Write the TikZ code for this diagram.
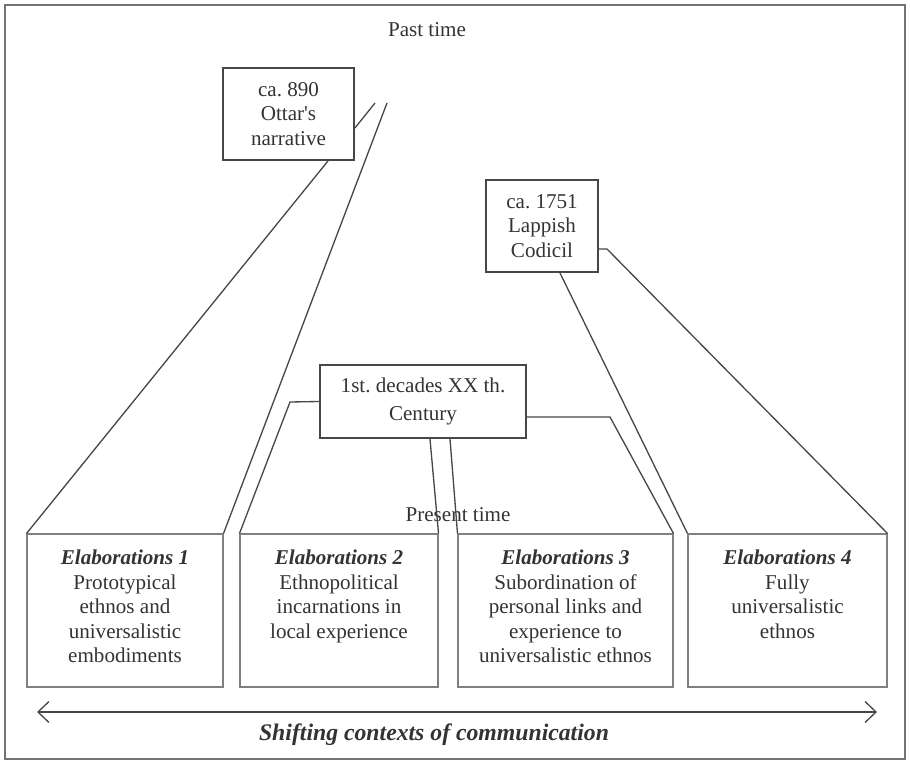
\documentclass[tikz,border=0pt]{standalone}
\usepackage{fontspec}
\setmainfont{Liberation Serif}
\usetikzlibrary{arrows.meta, positioning}

\begin{document}
\begin{tikzpicture}[
    x=0.02cm, y=-0.02cm, % one unit is one pixel of the page
    >={Straight Barb[length=2.2mm, width=4.2mm]}, % Open barbs on the time arrow
    line/.style={draw=black!72, line width=0.75pt}, % Style for the funnel lines
    datebox/.style={draw=black!72, line width=1.1pt, align=center, text=black!80,
        font=\fontsize{12}{14}\selectfont, inner sep=0pt}, % Dated sources
    elabbox/.style={draw=black!50, line width=0.6pt}, % Boxes of the elaborations
    elabtext/.style={align=center, text=black!80, font=\fontsize{12}{14}\selectfont,
        inner sep=0pt}, % Text inside those boxes
    timelabel/.style={text=black!80, font=\fontsize{12}{14}\selectfont} % Past / present
]
    \useasboundingbox (0,0) rectangle (910,764);

    % Frame
    \draw[black!55, line width=0.8pt] (5,5) rectangle (905,759);

    % Time labels
    \node[timelabel] (past) at (427,30) {Past time};
    \node[timelabel] (present) at (458,515) {Present time};

    % Dated sources
    \node[datebox, minimum width=2.62cm, minimum height=1.84cm] (ottar) at (288.5,114)
        {ca.\ 890\\Ottar\textquotesingle s\\narrative};
    \node[datebox, minimum width=2.24cm, minimum height=1.84cm] (lappish) at (542,226)
        {ca.\ 1751\\Lappish\\Codicil};
    \node[datebox, minimum width=4.12cm, minimum height=1.46cm,
        font=\fontsize{12}{16}\selectfont] (xx) at (423,401.5)
        {1st.\ decades XX th.\\Century};

    % Elaborations
    \node[elabbox, minimum width=3.92cm, minimum height=3.06cm] (el1) at (125,610.5) {};
    \node[elabbox, minimum width=3.96cm, minimum height=3.06cm] (el2) at (339,610.5) {};
    \node[elabbox, minimum width=4.30cm, minimum height=3.06cm] (el3) at (565.5,610.5) {};
    \node[elabbox, minimum width=3.98cm, minimum height=3.06cm] (el4) at (787.5,610.5) {};

    \node[elabtext, below=0.32cm of el1.north] (el1txt)
        {\textbf{\textit{Elaborations 1}}\\Prototypical\\ethnos and\\universalistic\\embodiments};
    \node[elabtext, below=0.32cm of el2.north] (el2txt)
        {\textbf{\textit{Elaborations 2}}\\Ethnopolitical\\incarnations in\\local experience};
    \node[elabtext, below=0.32cm of el3.north] (el3txt)
        {\textbf{\textit{Elaborations 3}}\\Subordination of\\personal links and\\experience to\\universalistic ethnos};
    \node[elabtext, below=0.32cm of el4.north] (el4txt)
        {\textbf{\textit{Elaborations 4}}\\Fully\\universalistic\\ethnos};

    % Lines from Ottar's narrative
    \coordinate (ottarA) at (375,103);
    \coordinate (ottarB) at (387,103);
    \draw[line] ([xshift=0.79cm]ottar.south) -- (el1.north west);
    \draw[line] ([yshift=-0.28cm]ottar.east) -- (ottarA);
    \draw[line] (ottarB) -- (el1.north east);

    % Lines from the Lappish Codicil
    \coordinate (lappA) at (607,249);
    \draw[line] ([xshift=0.36cm]lappish.south) -- (el4.north west);
    \draw[line] ([yshift=-0.46cm]lappish.east) -- (lappA) -- (el4.north east);

    % Lines from the XX th. century
    \coordinate (xxL) at (290,402);
    \coordinate (xxR) at (610,417);
    \draw[line] (xx.west) -- (xxL) -- (el2.north west);
    \draw[line] ([xshift=0.14cm]xx.south) -- (el2.north east);
    \draw[line] ([xshift=0.54cm]xx.south) -- (el3.north west);
    \draw[line] ([yshift=-0.31cm]xx.east) -- (xxR) -- (el3.north east);

    % Time arrow
    \coordinate (ctxL) at (37,712);
    \coordinate (ctxR) at (877,712);
    \draw[line, <->] (ctxL) -- (ctxR);
    \node[text=black!80, font=\fontsize{13.5}{16}\selectfont\bfseries\itshape]
        (shifting) at (434,735) {Shifting contexts of communication};

\end{tikzpicture}
\end{document}
